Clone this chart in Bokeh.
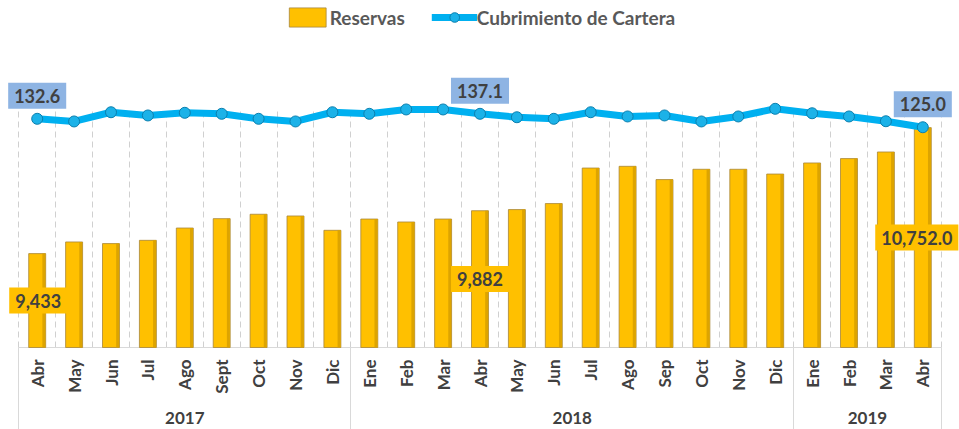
import math
from itertools import groupby
from bokeh.plotting import figure
from bokeh.models import (FactorRange, Range1d, Grid, FixedTicker, Legend, LegendItem,
                          Label, ColumnDataSource)
from bokeh.core.properties import value
from bokeh.transform import dodge
from bokeh.embed import file_html
from bokeh.resources import INLINE

# ---------------- data ----------------
years = ["2017"] * 9 + ["2018"] * 12 + ["2019"] * 4
months = ["Abr", "May", "Jun", "Jul", "Ago", "Sept", "Oct", "Nov", "Dic",
          "Ene", "Feb", "Mar", "Abr", "May", "Jun", "Jul", "Ago", "Sep", "Oct", "Nov", "Dic",
          "Ene", "Feb", "Mar", "Abr"]
reservas = [9433, 9555, 9538, 9572, 9701, 9799, 9845, 9827, 9677,
            9795, 9764, 9795, 9882, 9894, 9957, 10329, 10347, 10208, 10316, 10316, 10266,
            10382, 10428, 10497, 10752]
cubrimiento = [132.6, 130.2, 138.5, 135.6, 138.0, 137.1, 132.6, 130.2, 138.5,
               137.1, 141.0, 141.0, 137.1, 134.0, 132.6, 138.5, 134.7, 135.6, 130.2, 134.7, 141.6,
               137.6, 134.7, 130.4, 125.0]
labelled_idx = [0, 12, 24]
line_label_text = ["132.6", "137.1", "125.0"]
bar_label_text = ["9,433", "9,882", "10,752.0"]
series_names = ["Reservas", "Cubrimiento de Cartera"]

# ---------------- geometry (pixels) ----------------
W, H = 959, 429
BASE_PX = 347            # baseline distance from the top of the frame
PX_PER_UNIT_X = 36.9     # width of one month slot
Y0 = 8450                # bar axis minimum (baseline)
U_BAR = 10.47            # bar units per pixel
U_COV = 0.9              # coverage units per pixel
COV_AT = (132.6, 118.3)  # coverage value shown at this pixel row

n = len(months)
y_top = Y0 + BASE_PX * U_BAR
y_bot = Y0 - (H - BASE_PX) * U_BAR
cov_top = COV_AT[0] + COV_AT[1] * U_COV
cov_bot = COV_AT[0] - (H - COV_AT[1]) * U_COV
pad_units = (W / PX_PER_UNIT_X - n) / 2

def px_down(px):  # pixel distance below the baseline, in bar units
    return Y0 - px * U_BAR

FONT = "Lato"
TXT = "#404040"

factors = list(zip(years, months))
src = ColumnDataSource(dict(x=factors, res=reservas, cov=cubrimiento, month=months))

xr = FactorRange(*factors, factor_padding=0, group_padding=0, subgroup_padding=0,
                 range_padding=2 * pad_units / n, range_padding_units="percent")
p = figure(width=W, height=H, x_range=xr, y_range=Range1d(y_bot, y_top),
           output_backend="svg", toolbar_location=None,
           x_axis_location=None, y_axis_location=None,
           min_border_left=0, min_border_right=0, min_border_top=0, min_border_bottom=0,
           outline_line_color=None, background_fill_color="white", border_fill_color="white")
p.extra_y_ranges = {"cov": Range1d(cov_bot, cov_top)}
p.xgrid.visible = False
p.ygrid.visible = False

# dashed grid at month boundaries
grid = Grid(dimension=0, ticker=FixedTicker(ticks=list(range(n + 1))),
            grid_line_color="#d0d0d0", grid_line_dash="6 4", grid_line_width=1,
            cross_bounds=(Y0, Y0 + 239 * U_BAR))
p.add_layout(grid, "center")

# year group boundaries and centers
bounds = [0]
centers = []
year_names = []
for yname, grp in groupby(years):
    cnt = len(list(grp))
    centers.append(bounds[-1] + cnt / 2)
    bounds.append(bounds[-1] + cnt)
    year_names.append(yname)

sep = Grid(dimension=0, ticker=FixedTicker(ticks=bounds), grid_line_color="#d9d9d9",
           grid_line_width=1, cross_bounds=(y_bot, Y0))
p.add_layout(sep, "center")
base = Grid(dimension=1, ticker=FixedTicker(ticks=[Y0]), grid_line_color="#d9d9d9",
            grid_line_width=1, cross_bounds=(0, n))
p.add_layout(base, "center")

# bars
bar_r = p.vbar(x="x", top="res", bottom=Y0, width=0.46, source=src,
               fill_color="#FFC000", line_color="#A8863A", line_width=1, line_alpha=0.8)
p.vbar(x=dodge("x", 0.18, range=xr), top="res", bottom=Y0, width=0.08, source=src,
       fill_color="#DDA400", line_color=None)

# line
line_r = p.line(x="x", y="cov", source=src, y_range_name="cov",
                line_color="#00B0F0", line_width=7, line_join="round")
dot_r = p.scatter(x="x", y="cov", source=src, y_range_name="cov", size=11,
                  fill_color="#1CB2E8", line_color="#0B7FAE", line_width=1)

# month labels (vertical) and year labels
p.text(x="x", y=px_down(12), text="month", source=src, angle=math.pi / 2,
       text_align="right", text_baseline="middle", text_font=value(FONT),
       text_font_style="bold", text_font_size="17px", text_color=TXT)
p.text(x=centers, y=[px_down(70)] * len(centers), text=year_names,
       text_align="center", text_baseline="middle", text_font=value(FONT),
       text_font_style="bold", text_font_size="17px", text_color=TXT)

# data labels
for i, t in zip(labelled_idx, line_label_text):
    p.add_layout(Label(x=i + 0.5, y=cubrimiento[i], y_range_name="cov", text=t,
                       text_align="center", text_baseline="middle", y_offset=23,
                       background_fill_color="#8EB4E3", padding=6,
                       text_font=FONT, text_font_style="bold",
                       text_font_size="18px", text_color=TXT))
for i, t, dx in zip(labelled_idx, bar_label_text, [1, 0, -6]):
    p.add_layout(Label(x=i + 0.5, y=(reservas[i] + Y0) / 2, text=t, x_offset=dx,
                       text_align="center", text_baseline="middle",
                       background_fill_color="#FFC000", padding=6,
                       text_font=FONT, text_font_style="bold",
                       text_font_size="18px", text_color=TXT))

# legend
legend = Legend(items=[LegendItem(label=series_names[0], renderers=[bar_r]),
                       LegendItem(label=series_names[1], renderers=[line_r, dot_r])],
                location="top_center", orientation="horizontal",
                glyph_width=46, glyph_height=24, label_standoff=0, spacing=26,
                padding=0, margin=5, background_fill_alpha=0, border_line_alpha=0,
                label_text_font=FONT, label_text_font_style="bold",
                label_text_font_size="19px", label_text_color="#595959")
p.add_layout(legend, "center")

open("out.html", "w").write(file_html(p, INLINE))
